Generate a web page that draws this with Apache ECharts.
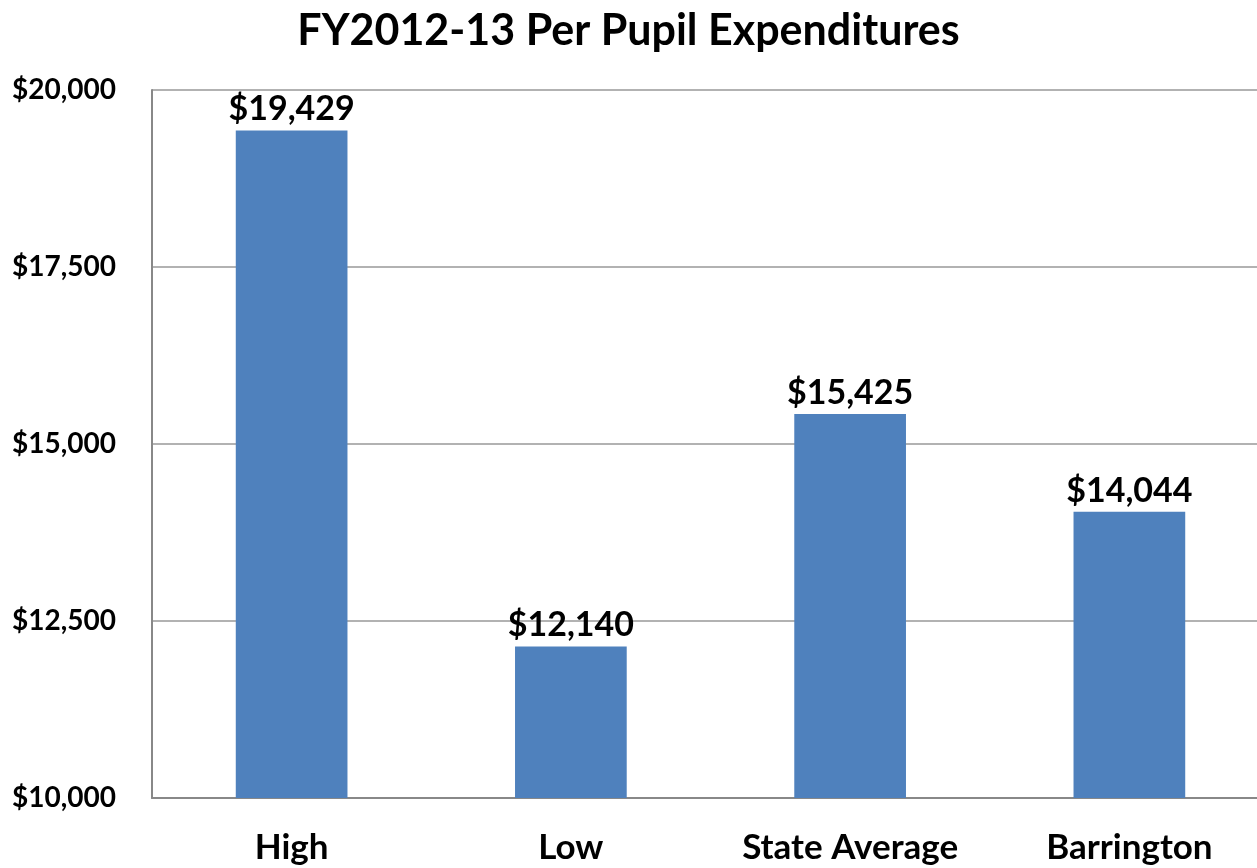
<!DOCTYPE html>
<html><head><meta charset="utf-8">
<script src="https://cdn.jsdelivr.net/npm/echarts@6/dist/echarts.min.js"></script>
<style>html,body{margin:0;padding:0;background:#fff}#c{width:1257px;height:868px}</style>
</head><body><div id="c"></div>
<script>
const title = "FY2012-13 Per Pupil Expenditures";
const categories = ["High", "Low", "State Average", "Barrington"];
const values = [19429, 12140, 15425, 14044];
const yTicks = [10000, 12500, 15000, 17500, 20000];

const FONT = "Lato, 'Open Sans', sans-serif";
function money(v){ return "$" + Math.round(v).toLocaleString("en-US"); }

const chart = echarts.init(document.getElementById('c'));
chart.setOption({
  animation: false,
  title: { text: title, left: 'center', top: 5,
    textStyle: { fontFamily: FONT, fontWeight: 'bold', fontSize: 43, color: '#000' } },
  grid: { left: 152, width: 1117, top: 90, bottom: 70, outerBoundsMode: 'none', containLabel: false },
  xAxis: { type: 'category', data: categories,
    axisLine: { show: true, lineStyle: { color: '#888', width: 2 } },
    axisTick: { show: false },
    axisLabel: { interval: 0, fontFamily: FONT, fontWeight: 'bold', fontSize: 35, color: '#000', margin: 32 } },
  yAxis: { type: 'value', min: yTicks[0], max: yTicks[yTicks.length-1], interval: 2500,
    axisLine: { show: true, lineStyle: { color: '#888', width: 2 } },
    axisTick: { show: false },
    splitLine: { lineStyle: { color: '#999', width: 1.5 } },
    axisLabel: { fontFamily: FONT, fontWeight: 'bold', fontSize: 28, color: '#000', margin: 36,
      formatter: money } },
  series: [{ type: 'bar', data: values, barWidth: '40%',
    itemStyle: { color: '#4F81BD' },
    label: { show: true, position: 'top', distance: 4, formatter: p => money(p.value),
      fontFamily: FONT, fontWeight: 'bold', fontSize: 34, color: '#000' } }]
});
</script></body></html>
